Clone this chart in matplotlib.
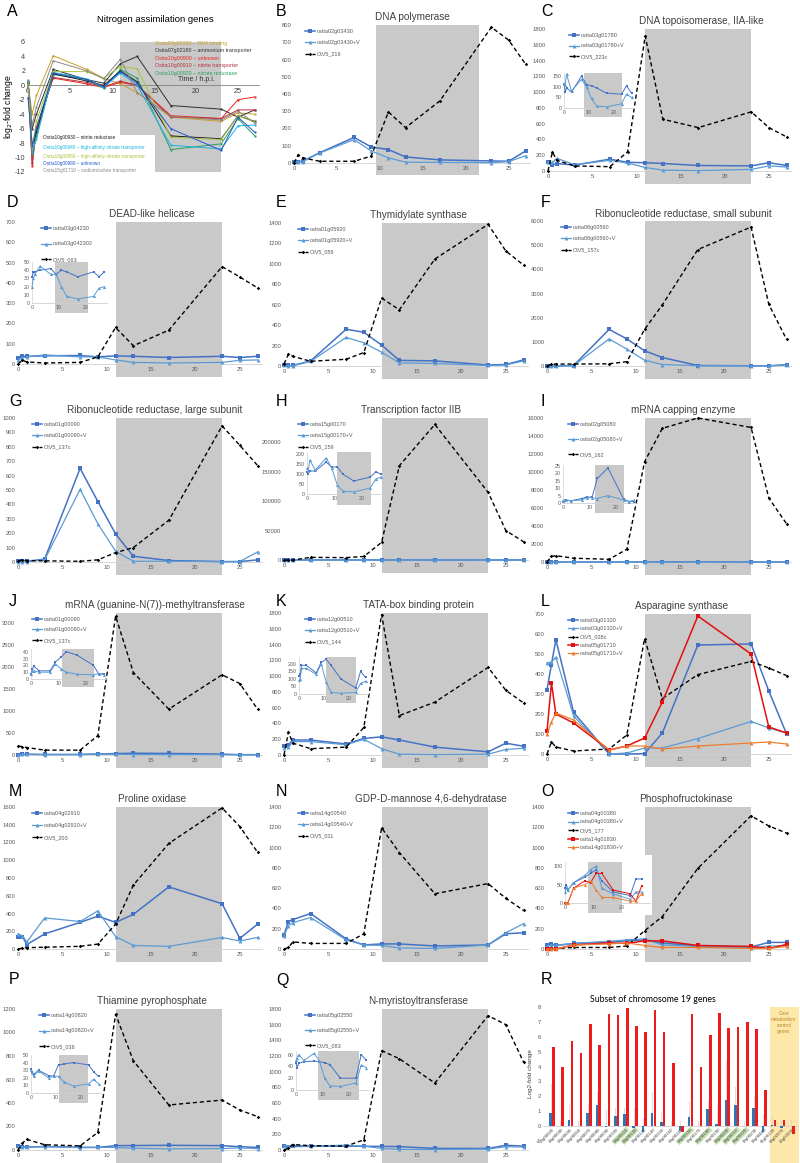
import numpy as np
import matplotlib
matplotlib.use("Agg")
import matplotlib.pyplot as plt
from matplotlib.patches import Rectangle

plt.rcParams['font.family'] = ['Liberation Sans', 'DejaVu Sans']
plt.rcParams['axes.unicode_minus'] = False

# sampling times (h.p.i.)
t = [0, 0.5, 1, 3, 7, 9, 11, 13, 17, 23, 25, 27]

# A - nitrogen assimilation genes (log2-fold change)
a_rna = [0.3, -4.0, -1.4, 4.1, 2.2, 1.0, 0.2, -1.0, -4.4, -5.0, -3.8, -4.0]
a_amm = [0.5, -6.0, -4.0, 2.2, 0.8, 0.3, 3.0, 4.0, -2.8, -3.3, -4.4, -3.4]
a_900 = [0.2, -11.2, -5.8, 1.0, 0.2, -0.3, 0.4, 0.0, -4.2, -4.6, -2.0, -1.6]
a_910 = [0.3, -10.8, -6.2, 1.1, 0.4, -0.2, 0.6, 0.0, -4.4, -4.6, -3.4, -3.4]
a_920 = [0.2, -9.5, -7.0, 1.5, 0.8, -0.4, 2.2, 1.0, -8.9, -8.1, -4.6, -7.0]
a_930 = [0.4, -8.5, -6.5, 1.6, 0.6, 0.0, 2.0, 0.5, -7.0, -7.4, -4.2, -5.0]
a_940 = [0.6, -9.2, -7.5, 1.8, 0.9, -0.3, 1.7, 0.0, -8.3, -8.8, -5.6, -5.5]
a_950 = [0.2, -8.6, -5.0, 1.9, 1.9, 1.0, 2.6, 2.3, -7.2, -7.5, -4.2, -5.1]
a_980 = [-1.7, -8.4, -6.0, 1.7, 0.8, -0.2, 1.9, 0.3, -6.0, -9.0, -4.4, -6.5]
a_1710 = [0.7, -5.5, -3.0, 3.4, 2.0, 0.9, 3.6, -1.0, -4.3, -4.8, -3.6, -5.2]
a_top_names = ["Ostta03g02380 \u2013 RNA binding", "Ostta07g02180 \u2013 ammonium transporter",
               "Ostta10g00900 \u2013 unknown", "Ostta10g00910 \u2013 nitrite transporter",
               "Ostta10g00920 \u2013 nitrate reductase"]
a_bot_names = ["Ostta10g00930 \u2013 nitrite reductase",
               "Ostta10g00940 \u2013 high-affinity nitrate transporter",
               "Ostta10g00950 \u2013 high-affinity nitrate transporter",
               "Ostta10g00980 \u2013 unknown", "Ostta15g01710 \u2013 sodium/solute transporter"]
a_top_colors = ['#c8a02a', '#303030', '#e8231f', '#b8323a', '#27a060']
a_bot_colors = ['#202020', '#1cb4e0', '#a6c43c', '#2458c8', '#8a8a8a']

# B - DNA polymerase
b_gene = [5, 8, 10, 60, 148, 93, 78, 35, 18, 12, 10, 70]
b_genev = [3, 5, 8, 58, 135, 70, 30, 5, 3, 2, 8, 42]
b_virus = [0, 48, 30, 10, 10, 40, 296, 205, 360, 787, 713, 572]
# C - DNA topoisomerase
c_gene = [115, 75, 95, 75, 150, 110, 105, 95, 70, 65, 105, 70]
c_genev = [115, 110, 160, 80, 135, 100, 45, 10, 5, 20, 65, 50]
c_virus = [0, 241, 135, 64, 55, 241, 1711, 656, 550, 750, 550, 432]
# D - DEAD-like helicase
d_gene = [32, 38, 38, 40, 42, 35, 40, 38, 32, 38, 32, 38]
d_genev = [20, 30, 35, 45, 35, 35, 20, 8, 5, 8, 18, 20]
d_virus = [0, 18, 10, 5, 8, 35, 180, 90, 167, 480, 429, 375]
# E - thymidylate synthase
e_gene = [10, 5, 5, 50, 360, 330, 205, 55, 50, 10, 15, 60]
e_genev = [5, 3, 3, 45, 280, 227, 135, 30, 25, 5, 10, 50]
e_virus = [20, 115, 95, 46, 66, 132, 665, 550, 1047, 1387, 1126, 988]
# F - RNR small subunit
f_gene = [0, 0, 0, 20, 1515, 1120, 630, 350, 20, 10, 10, 50]
f_genev = [0, 0, 0, 15, 1120, 700, 240, 60, 10, 5, 5, 50]
f_virus = [0, 70, 80, 80, 90, 180, 1515, 2530, 4820, 5750, 2550, 1100]
# G - RNR large subunit
g_gene = [5, 5, 5, 20, 650, 420, 195, 40, 10, 3, 3, 15]
g_genev = [3, 3, 3, 15, 505, 265, 75, 5, 5, 2, 3, 70]
g_virus = [5, 15, 10, 8, 5, 15, 65, 100, 290, 945, 810, 670]
# H - transcription factor IIB
h_gene = [110, 100, 115, 115, 160, 135, 135, 100, 65, 85, 110, 100]
h_genev = [130, 120, 170, 120, 180, 130, 45, 15, 10, 30, 75, 85]
h_virus = [0, 0, 0, 4500, 4000, 6000, 30000, 160000, 230000, 115000, 50000, 31000]
# I - mRNA capping enzyme
i_gene = [1, 1.5, 2, 1.5, 3, 4, 4, 16.5, 23.5, 2.5, 1, 1]
i_genev = [1.5, 2, 2, 1.5, 2, 3.5, 3.5, 3, 5, 2, 1, 2]
i_virus = [0, 620, 700, 420, 300, 1420, 11150, 14850, 16000, 14950, 7100, 4250]
# J - mRNA methyltransferase
j_gene = [8, 14, 19, 12, 12, 25, 32, 40, 35, 20, 7, 8]
j_genev = [7, 12, 12, 10, 10, 22, 15, 10, 7, 6, 8, 6]
j_virus = [200, 190, 170, 110, 110, 440, 3150, 1870, 1040, 1820, 1620, 1040]
# K - TATA-box binding protein
k_gene = [120, 130, 190, 190, 140, 210, 230, 190, 100, 40, 150, 110]
k_genev = [90, 100, 170, 170, 130, 200, 80, 10, 5, 10, 70, 85]
k_virus = [0, 290, 150, 80, 100, 350, 1780, 500, 670, 1110, 820, 660]
# L - asparagine synthase
l_gene1 = [322, 447, 572, 208, 0, 0, 2, 105, 545, 550, 315, 100]
l_gene1v = [455, 460, 483, 190, 0, 5, 30, 30, 77, 163, 130, 105]
l_virus = [0, 60, 35, 15, 25, 95, 577, 277, 397, 463, 430, 392]
l_gene2 = [113, 355, 200, 155, 20, 40, 80, 260, 690, 500, 135, 105]
l_gene2v = [100, 160, 205, 170, 20, 40, 40, 25, 40, 55, 60, 50]
# M - proline oxidase
m_gene = [130, 140, 50, 170, 300, 370, 300, 390, 700, 510, 120, 280]
m_genev = [170, 150, 80, 350, 310, 430, 140, 40, 30, 130, 90, 130]
m_virus = [0, 10, 15, 20, 30, 55, 280, 720, 1190, 1590, 1380, 1090]
# N - GDP-D-mannose 4,6-dehydratase
n_gene = [140, 270, 290, 350, 100, 40, 50, 50, 30, 40, 150, 160]
n_genev = [130, 230, 260, 310, 90, 40, 35, 10, 5, 40, 160, 250]
n_virus = [0, 15, 70, 55, 55, 150, 1195, 950, 545, 645, 500, 380]
# O - phosphofructokinase
o_gene1 = [40, 50, 35, 55, 70, 80, 90, 60, 30, 20, 65, 65]
o_gene1v = [30, 40, 35, 55, 75, 90, 100, 40, 25, 10, 30, 30]
o_virus = [0, 5, 5, 15, 15, 30, 180, 320, 795, 1313, 1213, 1143]
o_gene2 = [0, 0, 0, 40, 60, 55, 80, 80, 35, 25, 5, 45]
o_gene2v = [0, 0, 0, 40, 50, 60, 35, 15, 15, 5, 5, 25]
# P - thiamine pyrophosphate
p_gene = [32, 28, 24, 30, 23, 22, 37, 38, 40, 37, 28, 22]
p_genev = [30, 27, 22, 29, 20, 22, 22, 15, 9, 12, 18, 12]
p_virus = [0, 60, 90, 45, 35, 150, 1155, 760, 383, 425, 340, 284]
# Q - N-myristoyltransferase
q_gene = [45, 38, 45, 48, 49, 48, 46, 43, 20, 20, 60, 50]
q_genev = [50, 55, 60, 50, 62, 49, 20, 7, 6, 12, 42, 38]
q_virus = [0, 20, 70, 55, 50, 130, 1270, 1165, 855, 1715, 1601, 1122]

# R - chromosome 19 subset
r_labels = ['19g00020', '19g00040', '19g00045', '19g00050', '19g00070', '19g00080',
            '19g00090', '19g00100', '19g00110', '19g00120', '19g00130', '19g00140',
            '19g00150', '19g00160', '19g00165', '19g00166', '19g00170', '19g00180',
            '19g00190', '19g00200', '19g00210', '19g00220', '19g00230', '19g00460',
            '01g06120', '04g02070', '20g00590']
r_blue = [0.85, 0, 0.4, 0, 0.9, 1.4, -0.05, 0.65, 0.8, -0.15, -0.4, 0.9, 0.25, 0,
          -0.3, 0.6, 0, 1.15, 0.12, 1.75, 1.45, 0, 1.2, -0.4, 0.1, -0.15, 0.02]
r_red = [5.3, 4.0, 5.75, 4.9, 6.85, 5.45, 7.5, 7.45, 7.95, 6.7, 6.3, 7.8, 6.35, 4.25,
         -0.4, 7.5, 4.0, 6.1, 7.6, 6.6, 6.65, 7.0, 6.55, 2.4, 0.4, 0.4, -0.55]
r_err = [1.95, 0.35, 1.05, 0.35, 0.55, 0.9, 1.1, 0.6, 0.45, 1.25, 0.45, 1.3, 0.65, 0.35,
         0.35, 1.05, 0.35, 0.55, 1.33, 2.65, 1.15, 0.35, 0.75, 0.75, 0.65, 0.4, 0.38]
r_green = [8, 9, 15, 17, 19, 20, 21]

TXT = '#595959'
SHADE = '#c9c9c9'
st_gene = dict(color='#4472c4', marker='s', ms=2.6, lw=1.1, mew=0)
st_genev = dict(color='#5b9bd5', marker='^', ms=2.8, lw=0.9, mew=0)
st_virus = dict(color='black', marker='D', ms=1.8, lw=1.0, dashes=(3, 2), mew=0)
st_red = dict(color='#e01010', marker='s', ms=2.6, lw=1.1, mew=0)
st_orange = dict(color='#ed7d31', marker='^', ms=2.8, lw=0.9, mew=0)

fig = plt.figure(figsize=(8, 11.63), dpi=100)


def px_axes(l, tp, r, b):
    return fig.add_axes([l / 800, 1 - b / 1163, (r - l) / 800, (b - tp) / 1163])


def grey_band(ax, x0, x1, below=0.0, color=SHADE):
    ax.add_patch(Rectangle((x0, -below), x1 - x0, 1 + below, transform=ax.get_xaxis_transform(),
                           facecolor=color, edgecolor='none', zorder=0, clip_on=False))


def tidy(ax, fs=4.2):
    for s in ('top', 'right', 'left'):
        ax.spines[s].set_visible(False)
    ax.spines['bottom'].set_color('#d0d0d0')
    ax.spines['bottom'].set_linewidth(0.6)
    ax.tick_params(length=0, labelsize=fs, labelcolor=TXT, pad=2)
    ax.patch.set_visible(False)


def letter(x, y, s):
    fig.text(x / 800, 1 - y / 1163, s, fontsize=11.5, ha='left', va='center')


def course(rect, title, lines, ymax, ystep, band=(11, 23), ytop=None, tx=0.55,
           spacing=1.15, lx=0.04):
    ax = px_axes(*rect)
    grey_band(ax, *band, below=0.09)
    for y, st, lab in lines:
        ax.plot(t, y, label=lab, clip_on=False, zorder=3, **st)
    ax.set_xlim(0, 27.5)
    ax.set_ylim(0, ytop or ymax)
    ax.set_xticks(range(0, 26, 5))
    ax.set_yticks(range(0, ymax + 1, ystep))
    tidy(ax)
    ax.set_title(title, fontsize=7.2, color='#404040', pad=3.5, x=tx)
    leg = ax.legend(loc='upper left', bbox_to_anchor=(lx, 1.0), frameon=False, fontsize=4,
                    handlelength=1.8, handletextpad=0.3, labelspacing=spacing, borderaxespad=0.3)
    for txt in leg.get_texts():
        txt.set_color(TXT)
    return ax


def inset(rect, lines, ymax, yticks, band=(11, 23), xmax=28):
    ia = px_axes(*rect)
    grey_band(ia, *band, below=0.25)
    for y, st in lines:
        small = dict(st)
        small.update(ms=st['ms'] * 0.8, lw=0.7)
        ia.plot(t, y, clip_on=False, zorder=3, **small)
    ia.set_xlim(0, xmax)
    ia.set_ylim(0, ymax)
    ia.set_xticks([0, 10, 20])
    ia.set_yticks(yticks)
    tidy(ia, fs=3.8)
    ia.spines['left'].set_visible(True)
    ia.spines['left'].set_color('#d0d0d0')
    ia.spines['left'].set_linewidth(0.5)
    ia.tick_params(pad=1.5)
    return ia


# ---------------- A ----------------
axA = px_axes(28, 42, 259, 172)
grey_band(axA, 11, 23)
axA.add_patch(Rectangle((1.66, -12), 13.4, 5.1, facecolor='white', edgecolor='none', zorder=1))
a_series = [a_rna, a_amm, a_900, a_910, a_920, a_930, a_940, a_950, a_980, a_1710]
for vals, col in zip(a_series, a_top_colors + a_bot_colors):
    axA.plot(t, vals, color=col, lw=0.7, marker='s', ms=1.4, mew=0, zorder=3, clip_on=False)
axA.set_xlim(0, 27.5)
axA.set_ylim(-12, 6)
axA.set_yticks(range(-12, 7, 2))
axA.set_xticks(range(0, 26, 5))
for s in ('top', 'right', 'left'):
    axA.spines[s].set_visible(False)
axA.spines['bottom'].set_position(('data', 0))
axA.spines['bottom'].set_color('#808080')
axA.spines['bottom'].set_linewidth(0.6)
axA.tick_params(length=0, labelsize=5.2, labelcolor='#404040', pad=2)
axA.patch.set_visible(False)
axA.set_ylabel('log$_2$-fold change', fontsize=6.2)
axA.yaxis.set_label_coords(-0.058, 0.5)
axA.text(0.55, 1.17, 'Nitrogen assimilation genes', transform=axA.transAxes, ha='center',
         va='center', fontsize=6.8)
axA.text(20, 0.3, 'Time / h.p.i.', fontsize=5, color='#303030', ha='center', va='bottom', zorder=4)
for i, (nm, col) in enumerate(zip(a_top_names, a_top_colors)):
    axA.text(15.1, 5.85 - i * 1.04, nm, color=col, fontsize=3.8, va='center', zorder=4)
for yy, nm, col in zip([-7.16, -8.54, -9.79, -10.76, -11.73], a_bot_names, a_bot_colors):
    axA.text(1.8, yy, nm, color=col, fontsize=3.4, va='center', zorder=4)

# ---------------- time-course panels ----------------
C1, C2, C3 = (18, 262), (284, 528), (547, 791)

course((294, 25, 530, 163), 'DNA polymerase',
       [(b_gene, st_gene, 'ostta02g03430'), (b_genev, st_genev, 'ostta02g03430+V'),
        (b_virus, st_virus, 'OtV5_219')], 800, 100, band=(9.6, 21.5), tx=0.5, lx=0.03)

course((548, 29, 791, 171), 'DNA topoisomerase, IIA-like',
       [(c_gene, st_gene, 'ostta03g01780'), (c_genev, st_genev, 'ostta03g01780+V'),
        (c_virus, st_virus, 'OtV5_223c')], 1800, 200, tx=0.63, lx=0.07, spacing=1.0)
inset((564, 73, 634, 108), [(c_gene, st_gene), (c_genev, st_genev)], 165, [0, 50, 100, 150],
      band=(8, 23))

course((C1[0], 222, C1[1], 364), 'DEAD-like helicase',
       [(d_gene, st_gene, 'ostta03g04230'), (d_genev, st_genev, 'ostta03g042302'),
        (d_virus, st_virus, 'OtV5_063')], 700, 100, lx=0.08, spacing=1.9)
inset((32, 262, 107, 303), [(d_gene, st_gene), (d_genev, st_genev)], 50, range(0, 51, 10),
      band=(8.5, 21))

course((C2[0], 223, C2[1], 366), 'Thymidylate synthase',
       [(e_gene, st_gene, 'ostta01g05920'), (e_genev, st_genev, 'ostta01g05920+V'),
        (e_virus, st_virus, 'OtV5_056')], 1400, 200)

course((C3[0], 221, C3[1], 366), 'Ribonucleotide reductase, small subunit',
       [(f_gene, st_gene, 'ostta08g00560'), (f_genev, st_genev, 'ostta08g00560+V'),
        (f_virus, st_virus, 'OtV5_157c')], 6000, 1000, tx=0.56)

course((C1[0], 418, C1[1], 562), 'Ribonucleotide reductase, large subunit',
       [(g_gene, st_gene, 'ostta01g00090'), (g_genev, st_genev, 'ostta01g00090+V'),
        (g_virus, st_virus, 'OtV5_137c')], 1000, 100, tx=0.56)

course((C2[0], 418, C2[1], 560), 'Transcription factor IIB',
       [(h_gene, st_gene, 'ostta15g00170'), (h_genev, st_genev, 'ostta15g00170+V'),
        (h_virus, st_virus, 'OtV5_159')], 200000, 50000, ytop=241000, tx=0.52)
inset((307, 452, 384, 494), [(h_gene, st_gene), (h_genev, st_genev)], 210, range(0, 201, 50),
      band=(11, 23.3))

course((C3[0], 418, C3[1], 562), 'mRNA capping enzyme',
       [(i_gene, st_gene, 'ostta02g05080'), (i_genev, st_genev, 'ostta02g05080+V'),
        (i_virus, st_virus, 'OtV5_162')], 16000, 2000, lx=0.07, spacing=1.8, tx=0.56)
inset((563, 465, 637, 503), [(i_gene, st_gene), (i_genev, st_genev)], 25.5, range(0, 26, 5),
      band=(12, 23))

course((C1[0], 613, C1[1], 755), 'mRNA (guanine-N(7))-methyltransferase',
       [(j_gene, st_gene, 'ostta01g00090'), (j_genev, st_genev, 'ostta01g00090+V'),
        (j_virus, st_virus, 'OtV5_137c')], 3000, 500, ytop=3220, tx=0.56, spacing=1.0)
inset((31, 649, 107, 679), [(j_gene, st_gene), (j_genev, st_genev)], 44, range(0, 41, 10),
      band=(11.3, 23.1))

course((C2[0], 613, C2[1], 755), 'TATA-box binding protein',
       [(k_gene, st_gene, 'ostta12g00510'), (k_genev, st_genev, 'ostta12g00510+V'),
        (k_virus, st_virus, 'OtV5_144')], 1800, 200, lx=0.07)
inset((299, 657, 368, 694), [(k_gene, st_gene), (k_genev, st_genev)], 245, range(0, 201, 50))

course((C3[0], 614, C3[1], 754), 'Asparagine synthase',
       [(l_gene1, st_gene, 'ostta03g01320'), (l_gene1v, st_genev, 'ostta03g01320+V'),
        (l_virus, st_virus, 'OtV5_028c'), (l_gene2, st_red, 'ostta05g01710'),
        (l_gene2v, st_orange, 'ostta05g01710+V')], 700, 100, lx=0.07, spacing=0.6)

course((C1[0], 807, C1[1], 949), 'Proline oxidase',
       [(m_gene, st_gene, 'ostta04g02910'), (m_genev, st_genev, 'ostta04g02910+V'),
        (m_virus, st_virus, 'OtV5_200')], 1600, 200, spacing=1.3)

course((C2[0], 807, C2[1], 949), 'GDP-D-mannose 4,6-dehydratase',
       [(n_gene, st_gene, 'ostta14g00540'), (n_genev, st_genev, 'ostta14g00540+V'),
        (n_virus, st_virus, 'OtV5_011')], 1400, 200, tx=0.6)

axO = course((C3[0], 807, C3[1], 949), 'Phosphofructokinase',
             [(o_gene1, st_gene, 'ostta04g00380'), (o_gene1v, st_genev, 'ostta04g00380+V'),
              (o_virus, st_virus, 'OtV5_177'), (o_gene2, st_red, 'ostta14g01830'),
              (o_gene2v, st_orange, 'ostta14g01830+V')], 1400, 200, lx=0.07, spacing=0.65,
             tx=0.57)
axO.add_patch(Rectangle((0.037, 0.24), 0.395, 0.42, transform=axO.transAxes,
                        facecolor='white', edgecolor='none', zorder=1))
inset((565, 862, 650, 903), [(o_gene1, st_gene), (o_gene1v, st_genev), (o_gene2, st_red),
                             (o_gene2v, st_orange)], 111, [0, 50, 100], band=(8, 20), xmax=30)

course((C1[0], 1009, C1[1], 1150), 'Thiamine pyrophosphate',
       [(p_gene, st_gene, 'ostta14g00820'), (p_genev, st_genev, 'ostta14g00820+V'),
        (p_virus, st_virus, 'OtV5_036')], 1200, 200, lx=0.07, spacing=1.9)
inset((31, 1055, 101, 1093), [(p_gene, st_gene), (p_genev, st_genev)], 50, range(0, 51, 10),
      band=(11, 22.6))

course((C2[0], 1009, C2[1], 1150), 'N-myristoyltransferase',
       [(q_gene, st_gene, 'ostta05g02550'), (q_genev, st_genev, 'ostta05g02550+V'),
        (q_virus, st_virus, 'OtV5_083')], 1800, 200, lx=0.07, spacing=1.8)
inset((296, 1051, 369, 1090), [(q_gene, st_gene), (q_genev, st_genev)], 66, [0, 20, 40, 60],
      band=(8.4, 24))

# ---------------- R ----------------
axR = px_axes(543, 1007, 798, 1141)
xr = np.arange(len(r_labels))
axR.add_patch(Rectangle((23.6, -0.17), 3.2, 1.17, transform=axR.get_xaxis_transform(),
                        facecolor='#fde7a9', edgecolor='none', zorder=0, clip_on=False))
axR.text(25.1, 7.75, 'Core\nmetabolism\ncontrol\ngenes', ha='center', va='top', fontsize=3.5,
         color='#b88a2a', linespacing=1.3)
axR.bar(xr - 0.15, r_blue, width=0.28, color='#2e75b6', zorder=3)
axR.bar(xr + 0.15, r_red, width=0.28, color='#ee1c1c', zorder=3)
axR.errorbar(xr - 0.15, np.maximum(r_blue, 0), yerr=[np.zeros(len(r_err)), r_err], fmt='none',
             ecolor='#e2cccc', elinewidth=0.5, capsize=1, capthick=0.4, zorder=2)
axR.set_xlim(-0.98, 26.65)
axR.set_ylim(-1, 8)
axR.set_yticks(range(-1, 9))
for s in ('top', 'right', 'left'):
    axR.spines[s].set_visible(False)
axR.spines['bottom'].set_position(('data', 0))
axR.spines['bottom'].set_color('#d0d0d0')
axR.spines['bottom'].set_linewidth(0.6)
axR.set_xticks(xr)
axR.set_xticklabels(r_labels, rotation=45, ha='right', va='top', rotation_mode='anchor',
                    fontsize=3.2, color='#404040')
for i in r_green:
    axR.get_xticklabels()[i].set_bbox(dict(facecolor='#c5e0b3', edgecolor='none', pad=0.5))
axR.tick_params(axis='y', length=0, labelsize=4.2, labelcolor=TXT, pad=1.5)
axR.tick_params(axis='x', length=0, pad=1)
axR.patch.set_visible(False)
axR.set_ylabel('Log2-fold change', fontsize=4.6, color='#404040', labelpad=1.5)
axR.text(0.43, 1.02, 'Subset of chromosome 19 genes', transform=axR.transAxes, ha='center',
         va='bottom', fontsize=6.3, family=['Lato', 'DejaVu Sans'])

# panel letters
for s, x, y in [('A', 7, 11), ('B', 276, 11), ('C', 541, 11),
                ('D', 7, 203), ('E', 276, 203), ('F', 541, 203),
                ('G', 9, 402), ('H', 276, 402), ('I', 541, 402),
                ('J', 9, 602), ('K', 276, 602), ('L', 541, 602),
                ('M', 9, 791), ('N', 276, 791), ('O', 541, 791),
                ('P', 9, 980), ('Q', 276, 980), ('R', 541, 980)]:
    letter(x, y, s)

fig.savefig('out.png', dpi=100)
